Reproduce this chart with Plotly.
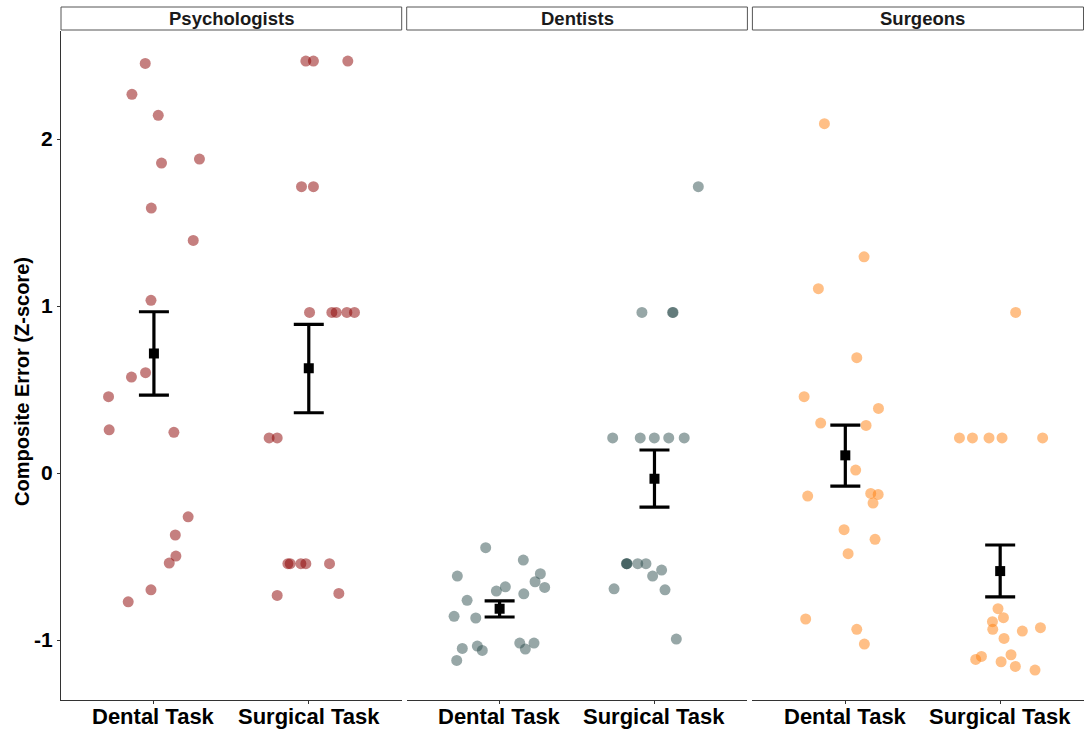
import plotly.graph_objects as go

# ---------------- data ----------------
panels = ["Psychologists", "Dentists", "Surgeons"]
tasks = ["Dental Task", "Surgical Task"]
point_colors = ["rgba(139,0,0,0.5)", "rgba(47,79,79,0.5)", "rgba(255,127,14,0.5)"]

# composite error values (z-scores) per participant
psych_dental = [2.453, 2.268, 2.142, 1.856, 1.880, 1.587, 1.393, 1.034, 0.601, 0.575,
                0.457, 0.259, 0.244, -0.262, -0.371, -0.497, -0.539, -0.699, -0.771]
psych_dental_jit = [-0.056, -0.142, 0.028, 0.049, 0.294, -0.017, 0.254, -0.019, -0.054, -0.145,
                    -0.293, -0.289, 0.129, 0.221, 0.138, 0.142, 0.099, -0.019, -0.166]

psych_surgical = [2.467, 2.467, 2.467, 1.715, 1.715, 0.962, 0.962, 0.962, 0.962, 0.962,
                  0.210, 0.210, -0.543, -0.543, -0.543, -0.543, -0.543, -0.733, -0.721]
psych_surgical_jit = [-0.019, 0.030, 0.252, -0.047, 0.030, 0.005, 0.149, 0.177, 0.246, 0.295,
                      -0.256, -0.204, -0.135, -0.120, -0.051, -0.019, 0.134, -0.204, 0.194]

dent_dental = [-0.447, -0.521, -0.617, -0.603, -0.651, -0.681, -0.707, -0.685, -0.723, -0.762,
               -0.858, -0.868, -1.050, -1.036, -1.062, -1.018, -1.054, -1.018, -1.122]
dent_dental_jit = [-0.090, 0.153, -0.273, 0.263, 0.229, 0.037, -0.021, 0.291, 0.156, -0.210,
                   -0.294, -0.154, -0.241, -0.144, -0.112, 0.130, 0.166, 0.222, -0.277]

dent_surgical = [1.715, 0.962, 0.962, 0.962, 0.210, 0.210, 0.210, 0.210, 0.210, -0.543,
                 -0.543, -0.543, -0.543, -0.543, -0.581, -0.617, -0.693, -0.699, -0.994]
dent_surgical_jit = [0.283, -0.081, 0.117, 0.120, -0.270, -0.092, -0.001, 0.092, 0.192, -0.179,
                     -0.181, -0.177, -0.108, -0.055, 0.046, -0.012, -0.261, 0.068, 0.141]

surg_dental = [2.092, 1.295, 1.104, 0.691, 0.457, 0.387, 0.299, 0.285, 0.018, -0.138,
               -0.122, -0.128, -0.180, -0.339, -0.397, -0.483, -0.874, -0.936, -1.024]
surg_dental_jit = [-0.135, 0.121, -0.174, 0.074, -0.266, 0.214, -0.159, 0.134, 0.067, -0.243,
                   0.164, 0.212, 0.179, -0.008, 0.192, 0.018, -0.256, 0.074, 0.123]

surg_surgical = [0.962, 0.210, 0.210, 0.210, 0.210, 0.210, -0.812, -0.890, -0.866, -0.936,
                 -0.946, -0.926, -0.990, -1.116, -1.098, -1.088, -1.130, -1.158, -1.180]
surg_surgical_jit = [0.100, -0.263, -0.179, -0.072, 0.012, 0.274, -0.014, -0.050, 0.021, -0.048,
                     0.143, 0.260, 0.025, -0.158, -0.121, 0.070, 0.006, 0.098, 0.225]

# group means with standard-error bounds: [dental, surgical] per panel
means = [[0.716, 0.627], [-0.812, -0.034], [0.106, -0.587]]
lower = [[0.467, 0.361], [-0.862, -0.204], [-0.078, -0.741]]
upper = [[0.966, 0.890], [-0.765, 0.138], [0.287, -0.431]]

values = [[psych_dental, psych_surgical], [dent_dental, dent_surgical], [surg_dental, surg_surgical]]
jitters = [[psych_dental_jit, psych_surgical_jit], [dent_dental_jit, dent_surgical_jit],
           [surg_dental_jit, surg_surgical_jit]]

y_ticks = [-1, 0, 1, 2]

# ---------------- figure ----------------
W, H = 1084, 729
ml, mr, mt, mb = 61, 0, 31, 29
pw = W - ml - mr
ph = H - mt - mb
panel_px = 340.7
gap_px = 5.0
unit_px = panel_px / 2.2

fig = go.Figure()
FONT = "Liberation Sans, Arial, sans-serif"

domains = []
ranges = []
for i in range(3):
    x0 = i * (panel_px + gap_px)
    x1 = min(x0 + panel_px, pw)
    domains.append([x0 / pw, x1 / pw])
    ranges.append([0.4, 0.4 + (x1 - x0) / unit_px])

for i in range(3):
    xa = "x" if i == 0 else f"x{i+1}"
    ya = "y" if i == 0 else f"y{i+1}"
    for j in range(2):
        xs = [j + 1 + d for d in jitters[i][j]]
        fig.add_trace(go.Scatter(
            x=xs, y=values[i][j], mode="markers", xaxis=xa, yaxis=ya,
            marker=dict(size=11, color=point_colors[i], line=dict(width=0)),
            showlegend=False, hoverinfo="y"))
    for j in range(2):
        m = means[i][j]
        fig.add_trace(go.Scatter(
            x=[j + 1], y=[m], mode="markers", xaxis=xa, yaxis=ya,
            marker=dict(symbol="square", size=10, color="black", line=dict(width=0)),
            error_y=dict(type="data", symmetric=False, array=[upper[i][j] - m],
                         arrayminus=[m - lower[i][j]], color="black", thickness=3.2, width=15),
            showlegend=False))
    # category labels under each panel
    for j in range(2):
        fig.add_annotation(xref=xa, yref="paper", x=j + 1, y=0, yshift=-16,
                           text=tasks[j], showarrow=False,
                           font=dict(family=FONT, size=22, color="black", weight="bold"),
                           xanchor="center", yanchor="middle")

yrange = [-1.359, 2.647]
layout = dict(
    template="none",
    width=W, height=H, margin=dict(l=ml, r=mr, t=mt, b=mb, autoexpand=False),
    paper_bgcolor="white", plot_bgcolor="white",
    font=dict(family=FONT, color="black"),
)
for i in range(3):
    key = "xaxis" if i == 0 else f"xaxis{i+1}"
    ykey = "yaxis" if i == 0 else f"yaxis{i+1}"
    layout[key] = dict(
        domain=domains[i], range=ranges[i], anchor="y" if i == 0 else f"y{i+1}",
        automargin=False, showticklabels=False,
        tickvals=[1, 2], ticks="outside", ticklen=3, tickcolor="#333333",
        showline=True, linecolor="#333333", linewidth=1, showgrid=False, zeroline=False,
        fixedrange=True)
    layout[ykey] = dict(
        range=yrange, domain=[0, 1], anchor="x" if i == 0 else f"x{i+1}",
        automargin=False,
        showgrid=False, zeroline=False, fixedrange=True,
        tickvals=y_ticks, ticktext=[str(v) for v in y_ticks],
        ticks="outside" if i == 0 else "", ticklen=3, tickcolor="#333333",
        showticklabels=(i == 0), showline=(i == 0), linecolor="#333333", linewidth=1,
        tickfont=dict(family=FONT, size=21, color="black", weight="bold"))
    if i > 0:
        layout[ykey]["matches"] = "y"
fig.update_layout(**layout)

# strips
strip_y0 = 1 + 1 / ph
strip_y1 = 1 + 24 / ph
for i in range(3):
    d0, d1 = domains[i]
    fig.add_shape(type="rect", xref="paper", yref="paper", x0=d0, x1=d1 if i < 2 else 0.9995,
                  y0=strip_y0, y1=strip_y1, line=dict(color="#555555", width=1),
                  fillcolor="white", layer="above")
    cx = (d0 + d0 + panel_px / pw) / 2
    fig.add_annotation(xref="paper", yref="paper", x=cx,
                       y=(strip_y0 + strip_y1) / 2, text=panels[i], showarrow=False,
                       font=dict(family=FONT, size=18.5, color="#1a1a1a", weight="bold"),
                       xanchor="center", yanchor="middle")

fig.add_annotation(xref="paper", yref="paper", x=0, y=(700 - 382) / ph, xshift=-39,
                   text="Composite Error (Z-score)", textangle=-90, showarrow=False,
                   font=dict(family=FONT, size=20, color="black", weight="bold"),
                   xanchor="center", yanchor="middle")

fig.write_html("out.html")
